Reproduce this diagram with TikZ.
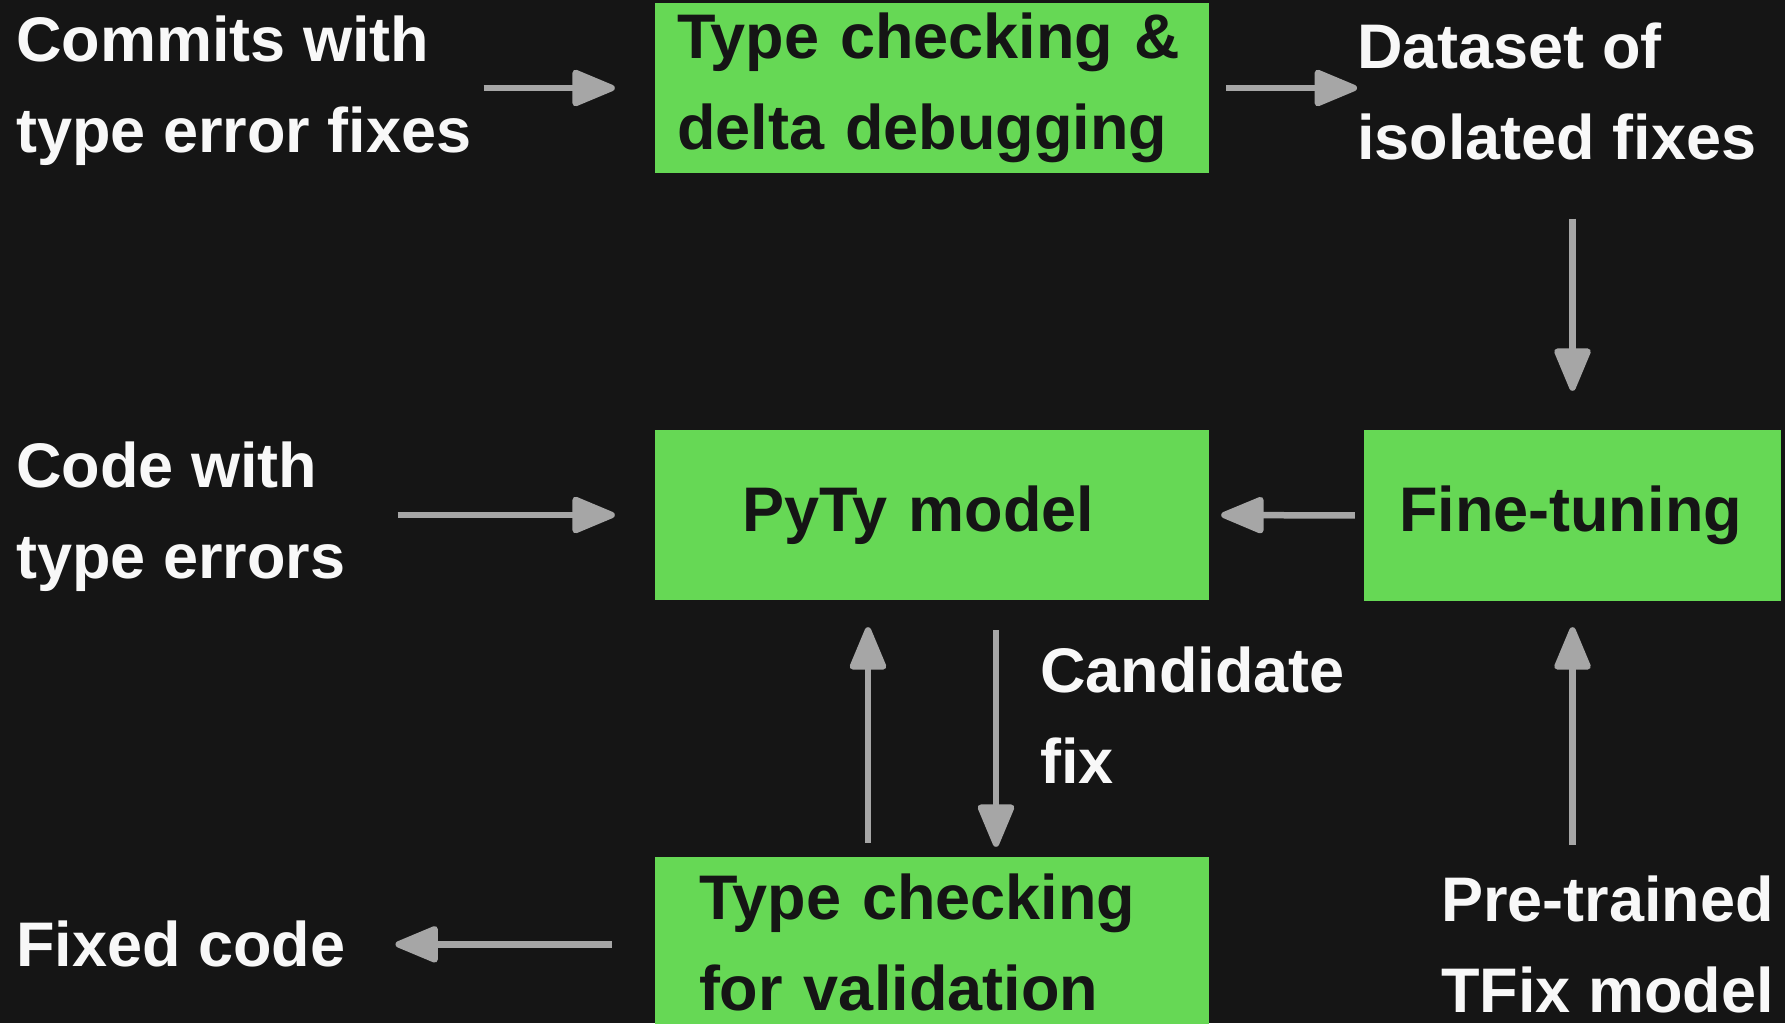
\documentclass[tikz,border=0pt]{standalone}
\usepackage{fontspec}
\setmainfont{Liberation Sans}
\usetikzlibrary{arrows.meta}
\definecolor{bg}{HTML}{151515}
\definecolor{boxgreen}{HTML}{66D855}
\definecolor{arrowgray}{HTML}{A6A6A6}
\definecolor{lighttext}{HTML}{F8F8F8}
\begin{document}
\begin{tikzpicture}[x=1pt,y=-1pt,
  txt/.style={font=\fontsize{63}{91}\selectfont\bfseries},
  lbl/.style={txt, text=lighttext, align=left, anchor=north west, inner sep=0pt},
  box/.style={txt, fill=boxgreen, draw=none, text=bg, align=left, inner sep=0pt,
              minimum width=554pt, minimum height=170pt},
  arr/.style={draw=arrowgray, line width=6.5pt, -{Triangle[width=38pt,length=48pt,round]}}]
\useasboundingbox (0,0) rectangle (1785,1023);
\clip (0,0) rectangle (1785,1023);
\fill[bg] (0,0) rectangle (1785,1023);

% boxes
\node[box, text width=510pt] (tc) at (932,88) {Type checking \&\\delta debugging};
\node[box, text width=380pt] (pyty) at (932,515) {PyTy model};
\node[box, minimum width=417pt, minimum height=171pt, text width=347pt] (ft) at (1572.5,515.5) {Fine-tuning};
\node[box, text width=466pt] (val) at (932,942) {Type checking\\for validation};

% labels
\node[lbl] (commits) at (16,16) {Commits with\\type error fixes};
\node[lbl] (dataset) at (1357,23) {Dataset of\\isolated fixes};
\node[lbl] (code) at (16,442) {Code with\\type errors};
\node[lbl] (cand) at (1040,647) {Candidate\\fix};
\node[lbl] (fixed) at (16,921) {Fixed code};
\node[lbl] (pre) at (1441,876) {Pre-trained\\TFix model};

% connectors
\draw[arr, shorten <=12pt, shorten >=40pt] (commits.east |- tc.west) -- (tc.west);
\draw[arr, shorten <=17pt] (tc.east) -- (tc.east -| dataset.west);
\draw[arr, shorten <=58pt, shorten >=39pt] (ft.north |- dataset.south) -- (ft.north);
\draw[arr, shorten <=9pt, shorten >=12pt] (ft.west) -- (pyty.east);
\draw[arr, shorten <=52pt, shorten >=40pt] (code.east |- pyty.west) -- (pyty.west);
\draw[arr, shorten <=14pt, shorten >=27pt] ([xshift=-64pt]val.north) -- ([xshift=-64pt]pyty.south);
\draw[arr, shorten <=30pt, shorten >=10pt] ([xshift=64pt]pyty.south) -- ([xshift=64pt]val.north);
\draw[arr, shorten <=43pt, shorten >=50pt] (val.west |- fixed.east) -- (fixed.east);
\draw[arr, shorten <=31pt, shorten >=26pt] (ft.south |- pre.north) -- (ft.south);
\end{tikzpicture}
\end{document}
